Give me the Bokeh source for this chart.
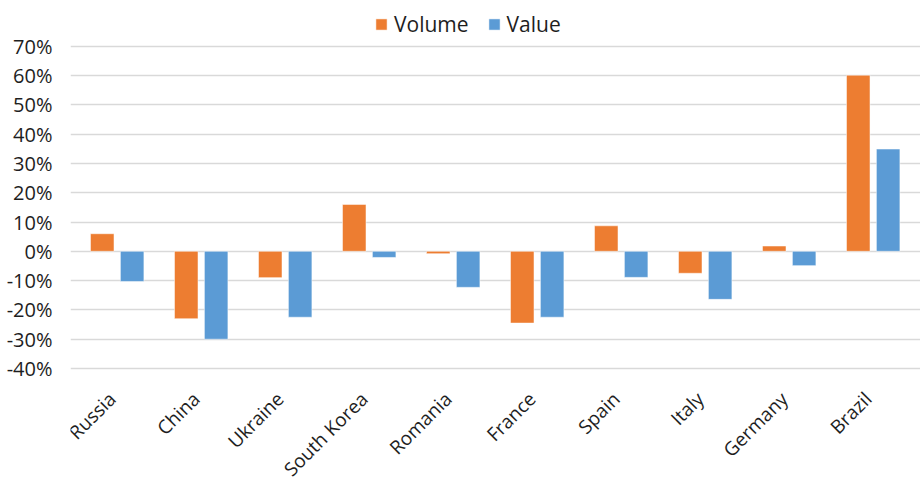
import math
from bokeh.plotting import figure
from bokeh.models import (ColumnDataSource, Range1d, Legend, LegendItem,
                          NumeralTickFormatter, FixedTicker, LabelSet)
from bokeh.core.properties import value
from bokeh.embed import file_html
from bokeh.resources import INLINE

countries = ["Russia", "China", "Ukraine", "South Korea", "Romania", "France", "Spain", "Italy", "Germany", "Brazil"]
volume = [6.0, -23.0, -9.0, 16.0, -0.8, -24.5, 8.7, -7.5, 1.8, 60.1]
value_ = [-10.3, -30.0, -22.5, -2.1, -12.3, -22.5, -8.9, -16.4, -4.9, 34.9]
y_ticks = [-40, -30, -20, -10, 0, 10, 20, 30, 40, 50, 60, 70]

FONT = "Open Sans"
TXT = "#1e1e1e"
ORANGE = "#ED7D31"
BLUE = "#5B9BD5"

W, H = 920, 482
FRAME_LEFT = 70
TOP_PX, BOTTOM_PX = 45.7, 368.0   # canvas rows of the 70% and -40% grid lines
CAT_PX, CAT_X0 = 84.0, 74.7       # category slot width and left edge of the first slot
y_min, y_max = y_ticks[0] / 100, y_ticks[-1] / 100
ppu = (BOTTOM_PX - TOP_PX) / (y_max - y_min)
y_start = y_min - (H - BOTTOM_PX) / ppu
y_end = y_max + TOP_PX / ppu
x_start = -(CAT_X0 - FRAME_LEFT) / CAT_PX
x_end = x_start + (W - FRAME_LEFT) / CAT_PX

xc = [i + 0.5 for i in range(len(countries))]
OFF, BW = 0.178, 0.28
src = ColumnDataSource(dict(country=countries,
                            xc=xc,
                            xv=[x - OFF for x in xc],
                            xw=[x + OFF for x in xc],
                            volume=[v / 100 for v in volume],
                            value=[v / 100 for v in value_],
                            ly=[y_min] * len(countries)))

p = figure(width=W, height=H, x_range=Range1d(x_start, x_end), y_range=Range1d(y_start, y_end),
           output_backend="svg", toolbar_location=None,
           min_border_left=FRAME_LEFT, min_border_right=0, min_border_top=0, min_border_bottom=0)

r1 = p.vbar(x="xv", top="volume", width=BW, source=src,
            fill_color=ORANGE, line_color="white", line_alpha=0.5, line_width=1)
r2 = p.vbar(x="xw", top="value", width=BW, source=src,
            fill_color=BLUE, line_color="white", line_alpha=0.5, line_width=1)

p.outline_line_color = None
p.xgrid.grid_line_color = None
p.ygrid.grid_line_color = "#d9d9d9"
p.ygrid.grid_line_width = 1.5
p.yaxis.ticker = FixedTicker(ticks=[t / 100 for t in y_ticks])
p.yaxis.formatter = NumeralTickFormatter(format="0%")
p.yaxis.axis_line_color = None
p.yaxis.major_tick_line_color = None
p.yaxis.minor_tick_line_color = None
p.yaxis.major_tick_out = 0
p.yaxis.major_label_standoff = 18
p.yaxis.major_label_text_font = FONT
p.yaxis.major_label_text_font_size = "20px"
p.yaxis.major_label_text_color = TXT
p.xaxis.visible = False

labels = LabelSet(x="xc", y="ly", text="country", source=src, angle=math.pi / 4,
                  text_align="right", text_baseline="middle", x_offset=-5, y_offset=-27,
                  text_font=value(FONT), text_font_size="19px", text_color=TXT)
p.add_layout(labels)

legend = Legend(items=[LegendItem(label="Volume", renderers=[r1]), LegendItem(label="Value", renderers=[r2])],
                orientation="horizontal", location=(304, H - 37.5), padding=0, margin=0,
                glyph_width=14, glyph_height=14, label_standoff=6, spacing=18,
                label_text_font=FONT, label_text_font_size="21px", label_text_color=TXT,
                border_line_color=None, background_fill_alpha=0)
p.add_layout(legend, "center")

open("out.html", "w").write(file_html(p, INLINE))
